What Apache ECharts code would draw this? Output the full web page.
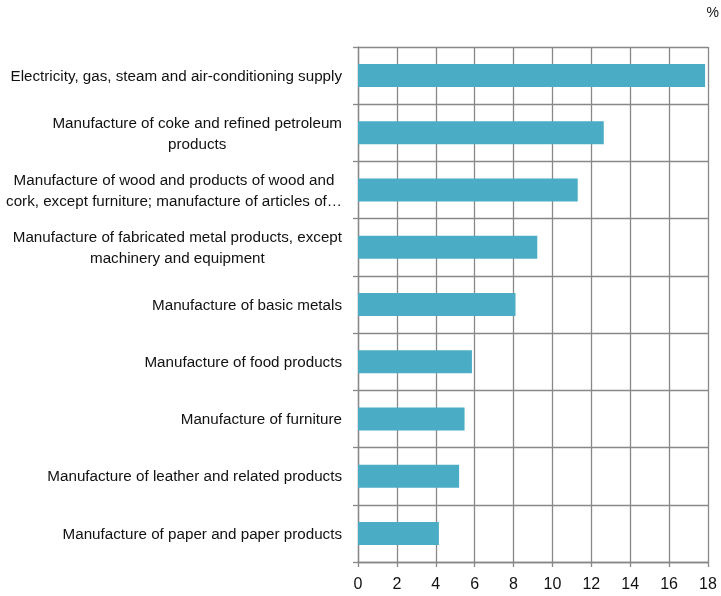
<!DOCTYPE html>
<html>
<head>
<meta charset="utf-8">
<script src="https://cdn.jsdelivr.net/npm/echarts@6/dist/echarts.min.js"></script>
<style>
html,body{margin:0;padding:0;background:#fff;}
#chart{width:721px;height:596px;}
</style>
</head>
<body>
<div id="chart"></div>
<script>
const categories = [
  "Electricity, gas, steam and air-conditioning supply",
  "Manufacture of coke and refined petroleum\nproducts",
  "Manufacture of wood and products of wood and\ncork, except furniture; manufacture of articles of\u2026",
  "Manufacture of fabricated metal products, except\nmachinery and equipment",
  "Manufacture of basic metals",
  "Manufacture of food products",
  "Manufacture of furniture",
  "Manufacture of leather and related products",
  "Manufacture of paper and paper products"
];
const values = [17.85, 12.64, 11.3, 9.22, 8.1, 5.86, 5.48, 5.2, 4.16];
const xTicks = [0, 2, 4, 6, 8, 10, 12, 14, 16, 18];
const unitLabel = "%";

const chart = echarts.init(document.getElementById('chart'));
const font = "'Liberation Sans', Arial, sans-serif";
chart.setOption({
  animation: false,
  backgroundColor: '#fff',
  graphic: [{
    type: 'text', right: 2, top: 6,
    style: { text: unitLabel, font: '14px ' + font, fill: '#111' }
  }],
  grid: { left: 358, right: 13, top: 47, bottom: 34, containLabel: false, outerBoundsMode: 'none' },
  xAxis: {
    type: 'value', min: xTicks[0], max: xTicks[xTicks.length - 1], interval: 2,
    axisLine: { show: true, lineStyle: { color: '#888', width: 1.3 } },
    axisTick: { show: true, length: 5, lineStyle: { color: '#888', width: 1.3 } },
    axisLabel: { color: '#111', fontSize: 16, fontFamily: font, margin: 15 },
    splitLine: { show: true, lineStyle: { color: '#888', width: 1.3 } }
  },
  yAxis: {
    type: 'category', data: categories, inverse: true,
    axisLine: { show: true, lineStyle: { color: '#888', width: 1.3 } },
    axisTick: { show: true, length: 5, lineStyle: { color: '#888', width: 1.3 } },
    splitLine: { show: true, lineStyle: { color: '#888', width: 1.3 } },
    axisLabel: {
      margin: 16, align: 'right',
      formatter: v => v.split('\n').map(l => '{c|' + l + '}').join('\n'),
      rich: { c: { align: 'center', fontSize: 15.2, fontFamily: font, color: '#111', lineHeight: 21, padding: [2, 0, 0, 0] } }
    }
  },
  series: [{
    type: 'bar', data: values, barWidth: 23,
    itemStyle: { color: '#4BACC6' }
  }]
});
</script>
</body>
</html>
